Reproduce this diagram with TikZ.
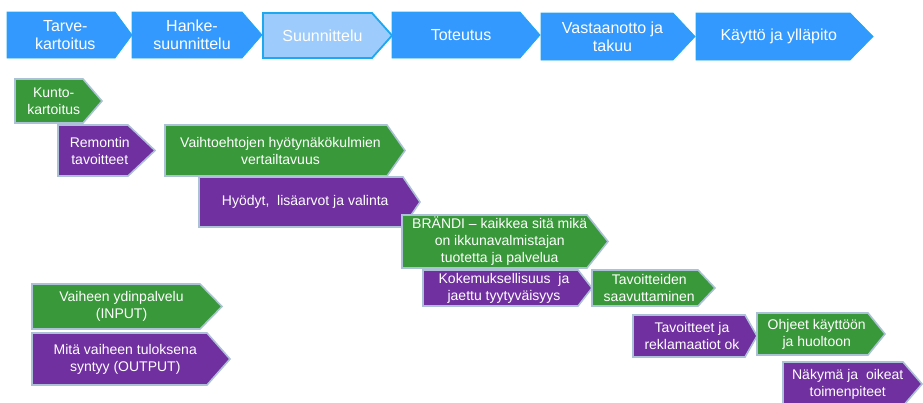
\documentclass[tikz,border=0pt]{standalone}
\usepackage{fontspec}
\setmainfont{Liberation Sans}
\definecolor{phaseblue}{RGB}{51,153,255}
\definecolor{phaselight}{RGB}{157,203,252}
\definecolor{phaseedge}{RGB}{30,168,240}
\definecolor{ingreen}{RGB}{57,152,57}
\definecolor{outpurple}{RGB}{112,48,160}
\definecolor{softedge}{RGB}{172,192,214}
\tikzset{
  phase/.style={fill=phaseblue, draw=phaseedge, line width=0.8pt, line join=miter},
  phasecur/.style={fill=phaselight, draw=phaseedge, line width=1.8pt, line join=miter},
  inbox/.style={fill=ingreen, draw=softedge, line width=1.6pt, line join=miter},
  outbox/.style={fill=outpurple, draw=softedge, line width=1.6pt, line join=miter},
  toptxt/.style={text=white, align=center, inner sep=0pt, font=\fontsize{16}{18}\selectfont},
  lowtxt/.style={text=white, align=center, inner sep=0pt, font=\fontsize{14}{17}\selectfont},
}
% #1 name, #2 shape style, #3 text style, #4 left, #5 top, #6 body right, #7 tip, #8 bottom, #9 text
\newcommand\pentarrow[9]{%
  \draw[#2] (#4,#5) -- (#6,#5) -- (#7,{(#5+#8)/2}) -- (#6,#8) -- (#4,#8) -- cycle;
  \node[#3] (#1) at ({(2*#4+#6+#7)/4},{(#5+#8)/2}) {#9};
}
\begin{document}
\begin{tikzpicture}[x=1pt,y=-1pt]
\useasboundingbox (0,0) rectangle (923,402);
\begin{scope}
\clip (0,0) rectangle (923,402);
% process phases
\pentarrow{tarve}{phase}{toptxt}{7}{12}{115}{132}{58}{Tarve-\\kartoitus}
\pentarrow{hanke}{phase}{toptxt}{132}{12}{242}{262}{58}{Hanke-\\suunnittelu}
\pentarrow{suunn}{phasecur}{toptxt}{263}{13}{372}{392}{58}{Suunnittelu}
\pentarrow{toteutus}{phase}{toptxt}{392}{12}{520}{540}{58}{Toteutus}
\pentarrow{vastaanotto}{phase}{toptxt}{541}{13}{673}{695}{60}{Vastaanotto ja\\takuu}
\pentarrow{kaytto}{phase}{toptxt}{696}{13}{850}{873}{60}{Käyttö ja ylläpito}
% input / output steps
\pentarrow{kunto}{inbox}{lowtxt}{15}{79}{83}{102}{123}{Kunto-\\kartoitus}
\pentarrow{remontti}{outbox}{lowtxt}{58}{125}{128}{155}{176}{Remontin\\tavoitteet}
\pentarrow{vaihtoehdot}{inbox}{lowtxt}{165}{125}{387}{405}{176}{Vaihtoehtojen hyötynäkökulmien\\vertailtavuus}
\pentarrow{hyodyt}{outbox}{lowtxt}{199}{177}{403}{420}{227}{Hyödyt,\ \ lisäarvot ja valinta}
\pentarrow{brandi}{inbox}{lowtxt}{402}{215}{587}{608}{268}{BRÄNDI – kaikkea sitä mikä\\on ikkunavalmistajan\\tuotetta ja palvelua}
\pentarrow{kokemus}{outbox}{lowtxt}{423}{270}{578}{592}{306}{Kokemuksellisuus\ \ ja\\jaettu tyytyväisyys}
\pentarrow{tavoitteiden}{inbox}{lowtxt}{592}{270}{698}{715}{306}{Tavoitteiden\\saavuttaminen}
\pentarrow{reklamaatiot}{outbox}{lowtxt}{633}{315}{745}{757}{357}{Tavoitteet ja\\reklamaatiot ok}
\pentarrow{ohjeet}{inbox}{lowtxt}{757}{313}{868}{885}{355}{Ohjeet käyttöön\\ja huoltoon}
\pentarrow{nakyma}{outbox}{lowtxt}{783}{362}{903}{922}{406}{Näkymä ja\ \ oikeat\\toimenpiteet}
% legend
\pentarrow{input}{inbox}{lowtxt}{32}{284}{200}{222}{329}{Vaiheen ydinpalvelu\\(INPUT)}
\pentarrow{output}{outbox}{lowtxt}{32}{333}{207}{230}{385}{Mitä vaiheen tuloksena\\syntyy (OUTPUT)}
\end{scope}
\end{tikzpicture}
\end{document}
